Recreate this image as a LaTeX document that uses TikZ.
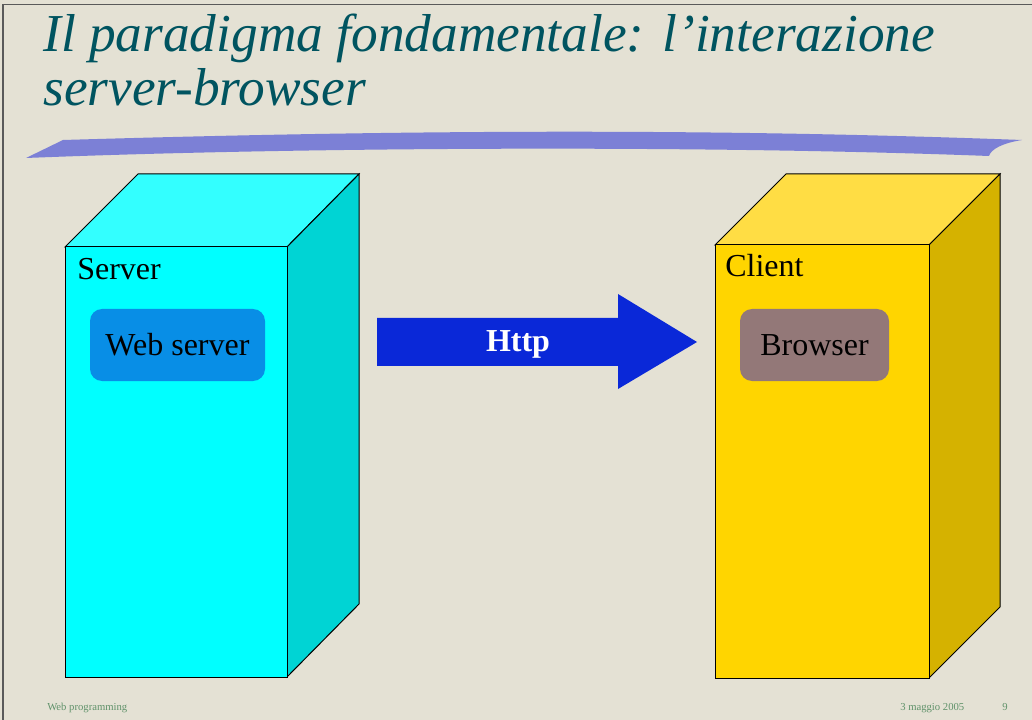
\documentclass[tikz,border=0pt]{standalone}
\usepackage{fontspec}
\setmainfont{Liberation Serif}
\definecolor{bgc}{RGB}{228,225,212}
\definecolor{titlec}{RGB}{0,84,96}
\definecolor{swoosh}{RGB}{124,128,214}
\definecolor{cyfront}{RGB}{0,255,255}
\definecolor{cytop}{RGB}{51,255,255}
\definecolor{cyside}{RGB}{0,212,212}
\definecolor{yefront}{RGB}{255,213,0}
\definecolor{yetop}{RGB}{255,221,68}
\definecolor{yeside}{RGB}{213,178,0}
\definecolor{wsbox}{RGB}{8,142,230}
\definecolor{brbox}{RGB}{147,120,120}
\definecolor{httpc}{RGB}{10,40,216}
\definecolor{footc}{RGB}{96,146,106}
\definecolor{framec}{RGB}{90,90,90}
\tikzset{
  face/.style={draw=black, line width=0.75pt, line join=miter},
  inner/.style={rounded corners=9pt, inner sep=0pt},
  lbl/.style={anchor=base west, inner sep=0pt, font=\fontsize{24}{28}\selectfont, text=black},
  foot/.style={anchor=base west, inner sep=0pt, font=\fontsize{8}{9}\selectfont, text=footc},
}
\begin{document}
\begin{tikzpicture}[x=0.75pt,y=-0.75pt]
\useasboundingbox (0,0) rectangle (1032,720);
\fill[bgc] (0,0) rectangle (1032,720);
% frame
\draw[framec, line width=1pt] (3,720) -- (3,4.5) -- (1032,4.5);
% title
\node[anchor=base west, inner sep=0pt, text=titlec, font=\fontsize{40}{48}\itshape\selectfont] (t1) at (43,52) {Il paradigma fondamentale: l’interazione};
\node[anchor=base west, inner sep=0pt, text=titlec, font=\fontsize{40}{48}\itshape\selectfont] (t2) at (43,106) {server-browser};
% swoosh
\fill[swoosh] (26,158) -- (63,140) .. controls (400,130) and (700,128) .. (1022,140)
  .. controls (1003,143) and (991,149) .. (989,156)
  .. controls (700,145) and (300,147) .. cycle;
% server cube
\filldraw[face, fill=cytop] (65,247) -- (138,174) -- (359,174) -- (287,247) -- cycle;
\filldraw[face, fill=cyside] (287,247) -- (359,174) -- (359,604) -- (287,677) -- cycle;
\filldraw[face, fill=cyfront] (65,247) rectangle (287,677);
\node[lbl] (server) at (77,280) {Server};
\node[inner, fill=wsbox, minimum width=175*0.75pt, minimum height=72*0.75pt, font=\fontsize{24}{28}\selectfont] (ws) at (177.5,345) {Web server};
% client cube
\filldraw[face, fill=yetop] (715,245) -- (786,174) -- (1000,174) -- (929,245) -- cycle;
\filldraw[face, fill=yeside] (929,245) -- (1000,174) -- (1000,607) -- (929,678) -- cycle;
\filldraw[face, fill=yefront] (715,245) rectangle (929,678);
\node[lbl] (client) at (725,277) {Client};
\node[inner, fill=brbox, minimum width=149*0.75pt, minimum height=72*0.75pt, font=\fontsize{24}{28}\selectfont] (br) at (814.5,345) {Browser};
% http arrow
\fill[httpc] (377,318) -- (618,318) -- (618,294) -- (697,342) -- (618,389) -- (618,366) -- (377,366) -- cycle;
\node[anchor=base, inner sep=0pt, text=white, font=\fontsize{24}{28}\bfseries\selectfont] (http) at (518,352) {Http};
% footer
\node[foot] (f1) at (47,710) {Web programming};
\node[foot] (f2) at (900,710) {3 maggio 2005};
\node[foot] (f3) at (1002,710) {9};
\end{tikzpicture}
\end{document}
